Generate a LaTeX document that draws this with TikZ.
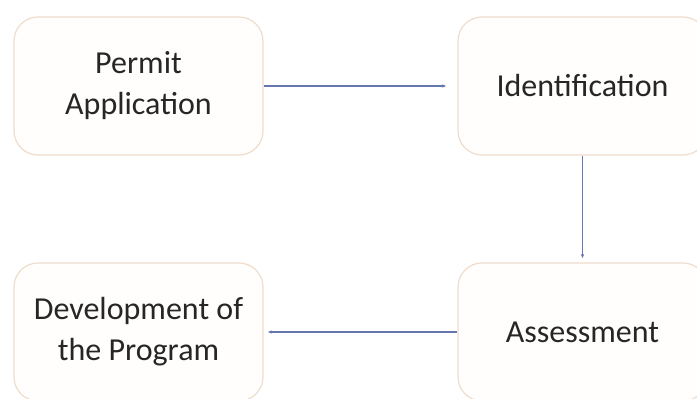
\documentclass[tikz,border=0pt]{standalone}
\usepackage{fontspec}
\setmainfont{Carlito}
\usetikzlibrary{arrows.meta}
\definecolor{boxline}{RGB}{240,220,204}
\definecolor{boxfill}{RGB}{255,254,252}
\definecolor{flow}{RGB}{100,120,175}
\definecolor{ink}{RGB}{38,38,38}
\tikzset{
  stage/.style={draw=boxline, fill=boxfill, line width=1.2pt, rounded corners=24pt,
    minimum width=249pt, minimum height=138pt, inner sep=0pt, align=center,
    text=ink, font=\fontsize{32}{41}\selectfont},
  flowline/.style={draw=flow, line width=1.2pt, -{Latex[length=4pt,width=3.5pt]}}
}
\begin{document}
\begin{tikzpicture}[x=1pt,y=1pt,yscale=-1,xscale=1]
\useasboundingbox (0,0) rectangle (697,399);
\clip (0,0) rectangle (697,399);
\draw (138.5,86) node [stage] (permit) {Permit\\Application};
\draw (582.5,86) node [stage] (ident) {Identification};
\draw (582.5,332) node [stage] (assess) {Assessment};
\draw (138.5,332) node [stage] (devel) {Development of\\the Program};
\draw [flowline, shorten >=11pt] (permit.east) -- (ident.west);
\draw [flowline, shorten >=4pt] (ident.south) -- (assess.north);
\draw [flowline, shorten >=4pt] (assess.west) -- (devel.east);
\end{tikzpicture}
\end{document}
